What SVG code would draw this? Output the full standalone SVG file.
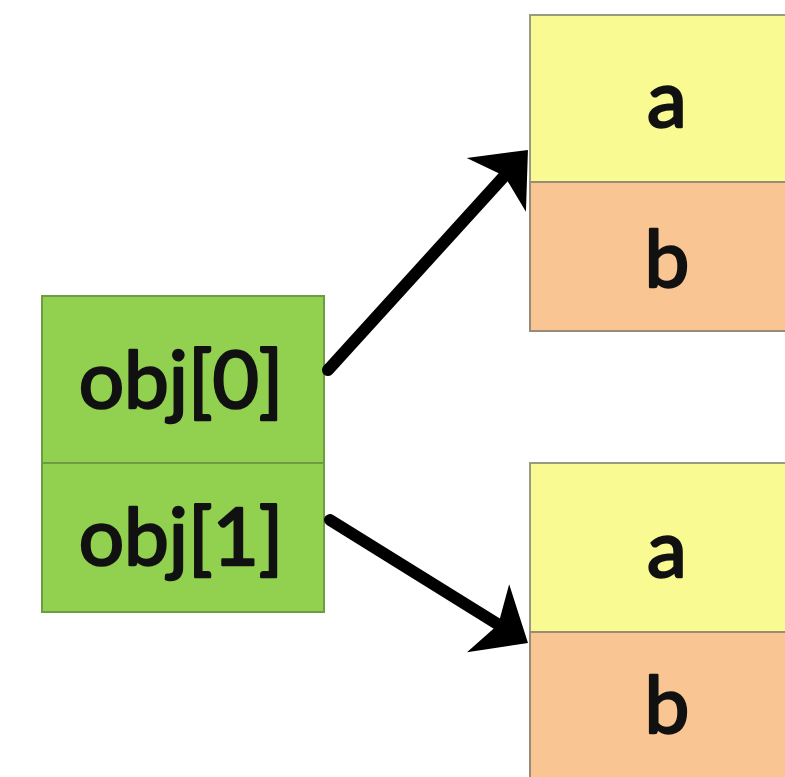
<svg xmlns="http://www.w3.org/2000/svg" width="785" height="777" viewBox="0 0 785 777">
<style>
.lbl{font-family:Lato,"Open Sans","Liberation Sans",sans-serif;font-size:80px;fill:#111;stroke:#111;stroke-width:2.5;stroke-linejoin:round;text-anchor:middle}
.g{fill:#92D050;stroke:#6E9C40;stroke-width:2}
.y{fill:#FAFA93;stroke:#9A9A80;stroke-width:2}
.o{fill:#F9C593;stroke:#9A8A78;stroke-width:2}
.conn{stroke:#000;stroke-width:12;stroke-linecap:round;fill:none;marker-end:url(#ah)}
</style>
<defs>
<marker id="ah" markerUnits="userSpaceOnUse" viewBox="-2 -42 52 84" markerWidth="52" markerHeight="84" refX="27" refY="0" orient="auto">
<path d="M47,0 L0,-40 L12,0 L0,40 Z" fill="#000"/>
</marker>
</defs>
<rect width="785" height="777" fill="#fff"/>
<g id="objarray">
<rect class="g" x="42" y="296" width="282" height="167"/>
<rect class="g" x="42" y="463" width="282" height="149"/>
<text class="lbl" x="181" y="408">obj[0]</text>
<text class="lbl" x="181" y="565">obj[1]</text>
</g>
<g id="obj0">
<rect class="y" x="530" y="15" width="280" height="167"/>
<rect class="o" x="530" y="182" width="280" height="149"/>
<text class="lbl" x="667" y="127">a</text>
<text class="lbl" x="667" y="287">b</text>
</g>
<g id="obj1">
<rect class="y" x="530" y="463" width="280" height="169"/>
<rect class="o" x="530" y="632" width="280" height="160"/>
<text class="lbl" x="667" y="577">a</text>
<text class="lbl" x="667" y="733">b</text>
</g>
<g id="connectors">
<line class="conn" x1="328" y1="370" x2="514.5" y2="164.8"/>
<line class="conn" x1="330" y1="520" x2="511" y2="632.4"/>
</g>
</svg>
